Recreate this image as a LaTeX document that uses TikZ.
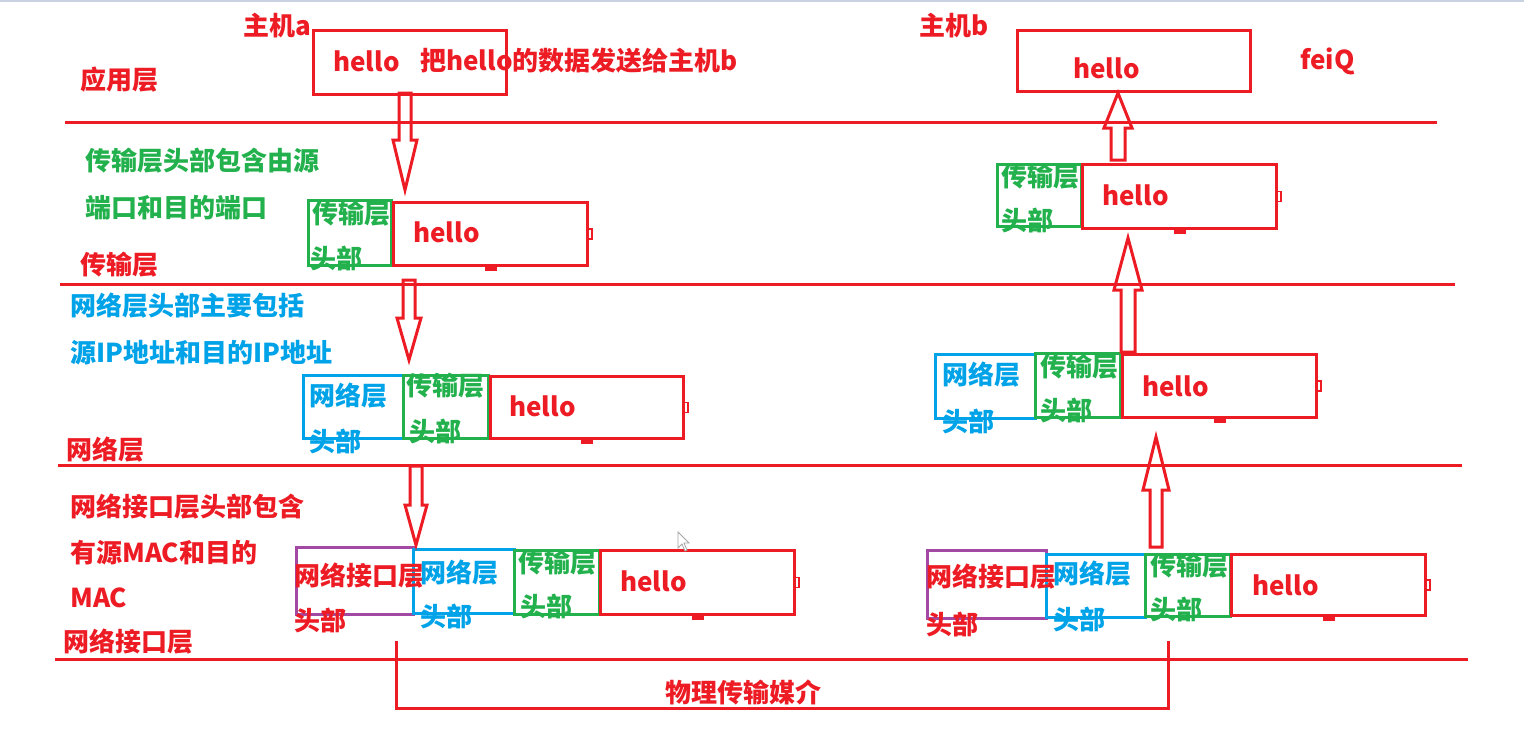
\documentclass[tikz,border=0pt]{standalone}
\usepackage{fontspec}
\setmainfont{Noto Sans CJK SC}
\definecolor{pred}{RGB}{237,28,36}
\definecolor{pgreen}{RGB}{34,177,76}
\definecolor{pblue}{RGB}{0,162,232}
\definecolor{ppurple}{RGB}{163,73,164}
\definecolor{topline}{RGB}{200,210,225}
\newcommand\blkdown[6]{\draw[arr] (#1-#5,#2) -- (#1-#5,#3) -- (#1-#6,#3) -- (#1,#4) -- (#1+#6,#3) -- (#1+#5,#3) -- (#1+#5,#2) -- cycle;}
\newcommand\hnd[1]{%
  \fill[pred] ([xshift=-6pt]#1.south) rectangle ([xshift=6pt,yshift=-4pt]#1.south);
  \draw[pred,line width=1.5pt] ([yshift=5pt]#1.east) -- ++(3pt,0) -- ++(0,-10pt) -- ++(-3pt,0);}
\tikzset{
  txt/.style={inner sep=0pt, anchor=west, font=\fontsize{26}{30}\selectfont\bfseries},
  rtxt/.style={txt, text=pred},
  gtxt/.style={txt, text=pgreen},
  btxt/.style={txt, text=pblue},
  box/.style={draw=#1, line width=3pt, anchor=north west, inner sep=0pt},
  arr/.style={draw=pred, line width=3pt, line join=miter},
  layer/.style={draw=pred, line width=3pt},
}
\begin{document}
\begin{tikzpicture}[x=1pt,y=-1pt]
\useasboundingbox (0,0) rectangle (1524,740);
\fill[white] (0,0) rectangle (1524,740);
\fill[topline] (0,0) rectangle (1524,2);

% layer lines
\draw[layer] (65,122) -- (1437,122);
\draw[layer] (60,284) -- (1455,284);
\draw[layer] (58,465) -- (1462,465);
\draw[layer] (55,659) -- (1468,659);
\draw[layer] (396,641) -- (396,708) -- (1168,708) -- (1168,641);
\node[rtxt] (phy) at (665,692) {物理传输媒介};

% application layer
\node[rtxt] (ha) at (243,26) {主机a};
\node[rtxt] (app) at (80,80) {应用层};
\node[box=pred, minimum width=193pt, minimum height=64pt] (boxA) at (312,29) {};
\node[rtxt] (helloA) at (333,61) {hello};
\node[rtxt] (send) at (420,61) {把hello的数据发送给主机b};
\node[rtxt] (hb) at (919,26) {主机b};
\node[box=pred, minimum width=233pt, minimum height=61pt] (boxB) at (1016,29) {};
\node[rtxt] (helloB) at (1073,68) {hello};
\node[rtxt] (feiq) at (1300,61) {feiQ};

% transport layer
\node[gtxt] (tn1) at (85,161) {传输层头部包含由源};
\node[gtxt] (tn2) at (85,208) {端口和目的端口};
\node[rtxt] (tl) at (80,265) {传输层};
\node[box=pgreen, minimum width=83pt, minimum height=65pt] (tLg) at (307,199) {};
\node[box=pred, minimum width=194pt, minimum height=63pt] (tLr) at (392,201) {};
\node[gtxt] at (312,214) {传输层};
\node[gtxt] at (310,258) {头部};
\node[rtxt] at (413,232) {hello};
\hnd{tLr}
\node[box=pgreen, minimum width=84pt, minimum height=62pt] (tRg) at (996,163) {};
\node[box=pred, minimum width=194pt, minimum height=64pt] (tRr) at (1081,163) {};
\node[gtxt] at (1001,177) {传输层};
\node[gtxt] at (1001,220) {头部};
\node[rtxt] at (1102,195) {hello};
\hnd{tRr}

% network layer
\node[btxt] (nn1) at (70,306) {网络层头部主要包括};
\node[btxt] (nn2) at (70,353) {源IP地址和目的IP地址};
\node[rtxt] (nl) at (66,450) {网络层};
\node[box=pblue, minimum width=100pt, minimum height=63pt] (nLb) at (302,374) {};
\node[box=pgreen, minimum width=85pt, minimum height=63pt] (nLg) at (402,374) {};
\node[box=pred, minimum width=193pt, minimum height=62pt] (nLr) at (489,375) {};
\node[btxt] at (309,396) {网络层};
\node[btxt] at (309,441) {头部};
\node[gtxt] at (406,386) {传输层};
\node[gtxt] at (409,431) {头部};
\node[rtxt] at (509,406) {hello};
\hnd{nLr}
\node[box=pblue, minimum width=100pt, minimum height=64pt] (nRb) at (934,353) {};
\node[box=pgreen, minimum width=85pt, minimum height=64pt] (nRg) at (1034,352) {};
\node[box=pred, minimum width=194pt, minimum height=63pt] (nRr) at (1121,353) {};
\node[btxt] at (942,375) {网络层};
\node[btxt] at (942,421) {头部};
\node[gtxt] at (1040,367) {传输层};
\node[gtxt] at (1040,410) {头部};
\node[rtxt] at (1142,386) {hello};
\hnd{nRr}

% network interface layer
\node[rtxt] (in1) at (70,507) {网络接口层头部包含};
\node[rtxt] (in2) at (70,553) {有源MAC和目的};
\node[rtxt] (in3) at (70,598) {MAC};
\node[rtxt] (il) at (63,642) {网络接口层};
\node[box=ppurple, minimum width=117pt, minimum height=67pt] (iLp) at (295,546) {};
\node[box=pblue, minimum width=101pt, minimum height=64pt] (iLb) at (412,548) {};
\node[box=pgreen, minimum width=85pt, minimum height=64pt] (iLg) at (513,549) {};
\node[box=pred, minimum width=194pt, minimum height=64pt] (iLr) at (599,549) {};
\node[rtxt] at (294,576) {网络接口层};
\node[rtxt] at (294,620) {头部};
\node[btxt] at (420,573) {网络层};
\node[btxt] at (420,616) {头部};
\node[gtxt] at (518,563) {传输层};
\node[gtxt] at (520,606) {头部};
\node[rtxt] at (620,581) {hello};
\hnd{iLr}
\node[box=ppurple, minimum width=119pt, minimum height=68pt] (iRp) at (926,549) {};
\node[box=pblue, minimum width=99pt, minimum height=63pt] (iRb) at (1045,553) {};
\node[box=pgreen, minimum width=85pt, minimum height=62pt] (iRg) at (1144,553) {};
\node[box=pred, minimum width=194pt, minimum height=61pt] (iRr) at (1230,553) {};
\node[rtxt] at (926,577) {网络接口层};
\node[rtxt] at (926,624) {头部};
\node[btxt] at (1053,574) {网络层};
\node[btxt] at (1053,619) {头部};
\node[gtxt] at (1150,566) {传输层};
\node[gtxt] at (1150,609) {头部};
\node[rtxt] at (1252,585) {hello};
\hnd{iRr}

% block arrows
\blkdown{405}{93}{140}{190}{6}{12}
\blkdown{409}{280}{318}{360}{6}{12}
\blkdown{416}{466}{505}{545}{6}{11}
\blkdown{1118}{160}{128}{93}{7}{14}
\blkdown{1128}{352}{290}{238}{7}{14}
\blkdown{1156}{547}{490}{437}{6}{13}

% mouse pointer
\draw[gray!70,fill=white,line width=0.8pt] (678,532) -- (678,548) -- (682,544) -- (685,551) -- (687,550) -- (684,543) -- (689,543) -- cycle;
\end{tikzpicture}
\end{document}
